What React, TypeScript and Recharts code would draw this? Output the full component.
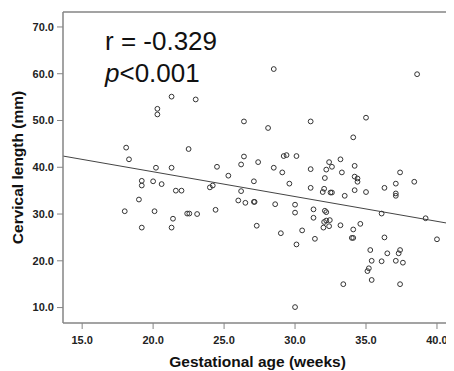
import { ScatterChart, Scatter, XAxis, YAxis, ReferenceLine } from "recharts";

// gestational age (weeks) and cervical length (mm), one entry per patient
const gestAge = [
  18.1, 18.3, 18.0, 19.0, 19.2, 19.2, 19.2, 20.0, 20.2, 20.1, 20.3, 20.3, 20.6, 21.3, 21.3, 21.4,
  21.3, 21.6, 22.0, 22.5, 22.4, 22.55, 23.0, 23.1, 24.0, 24.2, 24.5, 24.4, 25.3, 26.2, 26.4, 26.4,
  26.0, 26.2, 26.5, 27.1, 27.15, 27.1, 27.4, 27.3, 28.1, 28.5, 28.5, 28.6, 29.1, 29.0, 29.2, 29.4,
  29.6, 30.1, 30.0, 30.0, 30.1, 30.0, 30.5, 31.1, 31.1, 31.1, 31.3, 31.3, 31.4, 32.1, 32.2, 32.4,
  32.6, 31.95, 32.05, 32.5, 32.6, 32.1, 32.2, 32.05, 32.2, 32.45, 32.0, 32.4, 33.2, 33.3, 33.5, 33.2,
  33.4, 34.1, 34.2, 34.2, 34.4, 34.4, 34.2, 34.1, 34.0, 34.1, 34.6, 35.0, 35.0, 35.3, 35.4, 35.2,
  35.1, 35.4, 36.1, 36.1, 36.3, 36.3, 36.5, 37.1, 37.1, 37.1, 37.1, 37.4, 37.4, 37.3, 37.6, 37.4,
  38.4, 38.6, 39.2, 40.0,
];
const cervLen = [
  44.2, 41.7, 30.6, 33.1, 37.1, 36.1, 27.1, 37.0, 39.9, 30.6, 52.5, 51.3, 36.4, 55.1, 39.9, 29.0,
  27.1, 35.0, 35.0, 43.9, 30.1, 30.1, 54.5, 30.0, 35.7, 36.1, 40.1, 30.9, 38.2, 40.6, 42.3, 49.8,
  32.9, 34.9, 32.4, 32.6, 32.6, 37.0, 41.1, 27.5, 48.4, 61.0, 39.9, 32.1, 38.9, 25.9, 42.4, 42.6,
  36.5, 42.4, 32.0, 30.3, 23.5, 10.1, 26.5, 49.8, 39.6, 35.6, 31.0, 29.2, 24.7, 37.7, 39.5, 41.1,
  40.1, 34.7, 35.4, 34.6, 34.6, 30.7, 30.4, 28.3, 28.6, 28.7, 27.1, 27.4, 41.7, 38.9, 33.9, 27.6,
  15.0, 46.4, 40.3, 38.0, 37.6, 36.9, 35.1, 26.7, 24.9, 24.9, 27.9, 50.6, 34.7, 22.3, 20.0, 18.4,
  17.8, 15.9, 30.1, 19.9, 35.6, 25.0, 21.6, 36.5, 34.4, 33.9, 20.0, 38.9, 22.3, 21.6, 19.6, 15.0,
  36.9, 59.9, 29.1, 24.6,
];

// fitted line, read at the plot edges
const fitAge = [13.65, 41.2];
const fitLen = [42.4, 27.8];

const xTicks = [15, 20, 25, 30, 35, 40];
const yTicks = [10, 20, 30, 40, 50, 60, 70];

const FONT = "Arial, 'Liberation Sans', sans-serif";
const FRAME = "#858585";

const points = gestAge.map((age, i) => ({ age, length: cervLen[i] }));

const OpenCircle = (props: any) => (
  <circle cx={props.cx} cy={props.cy} r={2.4} fill="none" stroke="#333" strokeWidth={1} />
);

export default function App() {
  return (
    <ScatterChart
      width={446}
      height={363}
      margin={{ top: 4, right: 0, bottom: 0, left: 0 }}
      style={{ fontFamily: FONT }}
    >
      <XAxis
        type="number"
        dataKey="age"
        domain={[13.65, 41.2]}
        ticks={xTicks}
        tickFormatter={(v: number) => v.toFixed(1)}
        height={48}
        tickSize={6}
        tickMargin={7}
        axisLine={{ stroke: FRAME, strokeWidth: 1.5 }}
        tickLine={{ stroke: FRAME }}
        tick={{ fontSize: 11, fontWeight: "bold", fill: "#222" }}
        allowDataOverflow
      />
      <YAxis
        type="number"
        dataKey="length"
        domain={[6.7, 73.2]}
        ticks={yTicks}
        tickFormatter={(v: number) => v.toFixed(1)}
        width={55}
        tickSize={6}
        tickMargin={3}
        axisLine={{ stroke: FRAME, strokeWidth: 1.5 }}
        tickLine={{ stroke: FRAME }}
        tick={{ fontSize: 11, fontWeight: "bold", fill: "#222" }}
        allowDataOverflow
      />
      <ReferenceLine y={73.2} stroke={FRAME} strokeWidth={1.5} />
      <ReferenceLine
        segment={[
          { x: fitAge[0], y: fitLen[0] },
          { x: fitAge[1], y: fitLen[1] },
        ]}
        stroke="#444"
        strokeWidth={1}
      />
      <Scatter data={points} shape={OpenCircle} isAnimationActive={false} />
      <text x={97} y={42} fontSize={26} fill="#111" fontFamily={FONT}>
        r = -0.329
      </text>
      <text x={97} y={73.5} fontSize={26} fill="#111" fontFamily={FONT}>
        <tspan fontStyle="italic">p</tspan>&lt;0.001
      </text>
      <text
        x={249.5}
        y={359}
        textAnchor="middle"
        fontSize={15.5}
        fontWeight="bold"
        fill="#111"
        fontFamily={FONT}
      >
        Gestational age (weeks)
      </text>
      <text
        transform="translate(14.5,159.5) rotate(-90)"
        textAnchor="middle"
        fontSize={15.5}
        fontWeight="bold"
        fill="#111"
        fontFamily={FONT}
      >
        Cervical length (mm)
      </text>
    </ScatterChart>
  );
}
